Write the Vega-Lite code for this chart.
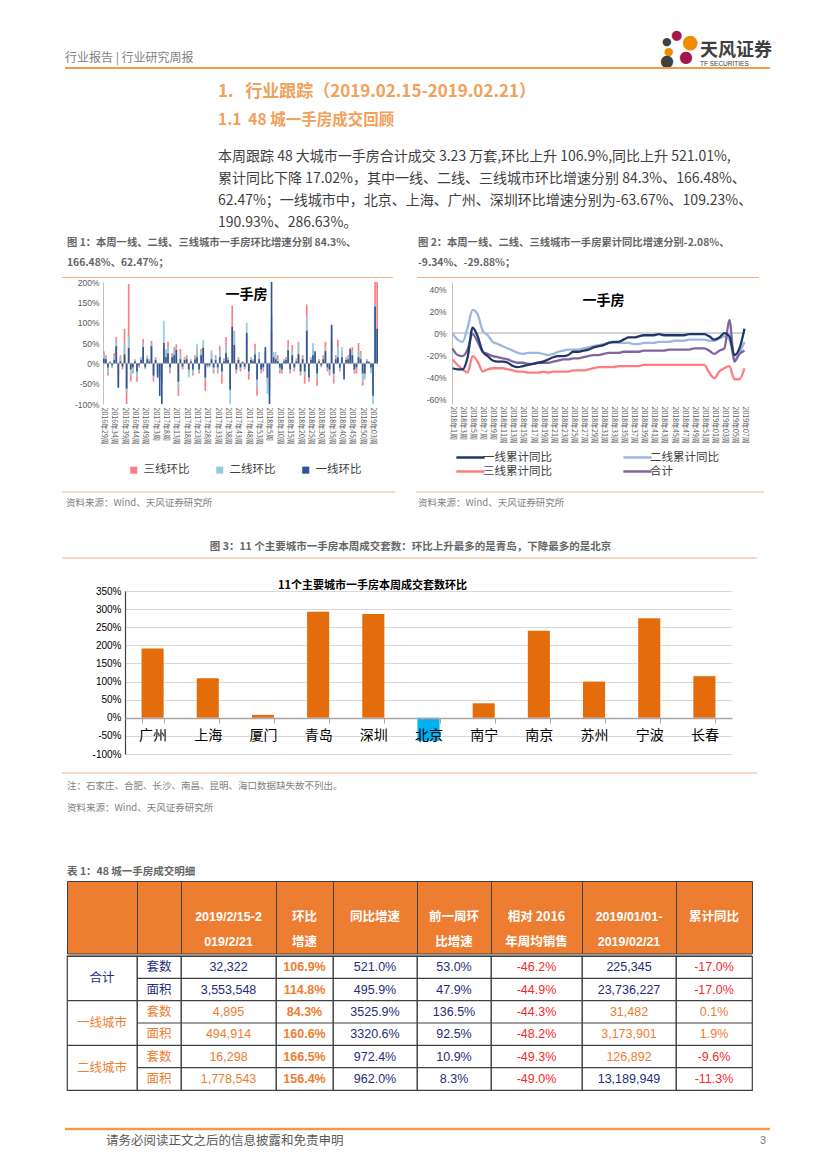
{
"$schema":"https://vega.github.io/schema/vega-lite/v6.json",
"background":"white",
"padding":0,
"spacing":0,
"bounds":"full",
"resolve":{"scale":{"color":"independent"},"legend":{"color":"independent"}},
"config":{
 "view":{"stroke":null},
 "font":"Noto Sans CJK SC",
 "title":{"anchor":"start","frame":"group","offset":0,"fontWeight":"normal","font":"Noto Sans CJK SC","subtitleFont":"Noto Sans CJK SC"}
},
"datasets":{
 "e":[],
 "d1":[
{"w":"2016年29周","一线":12,"二线":25,"三线":30},
{"w":"2016年30周","一线":10,"二线":15,"三线":20},
{"w":"2016年31周","一线":-10,"二线":-25,"三线":-30},
{"w":"2016年32周","一线":2,"二线":3,"三线":5},
{"w":"2016年33周","一线":-5,"二线":-12,"三线":-10},
{"w":"2016年34周","一线":8,"二线":20,"三线":25},
{"w":"2016年35周","一线":42,"二线":55,"三线":65},
{"w":"2016年36周","一线":-60,"二线":-55,"三线":-30},
{"w":"2016年37周","一线":5,"二线":15,"三线":20},
{"w":"2016年38周","一线":-8,"二线":-5,"三线":-15},
{"w":"2016年39周","一线":22,"二线":50,"三线":85},
{"w":"2016年40周","一线":-62,"二线":-70,"三线":-100},
{"w":"2016年41周","一线":38,"二线":70,"三线":195},
{"w":"2016年42周","一线":-15,"二线":-30,"三线":-45},
{"w":"2016年43周","一线":-10,"二线":-20,"三线":-25},
{"w":"2016年44周","一线":5,"二线":8,"三线":10},
{"w":"2016年45周","一线":-20,"二线":-35,"三线":-45},
{"w":"2016年46周","一线":-5,"二线":-8,"三线":-10},
{"w":"2016年47周","一线":8,"二线":12,"三线":15},
{"w":"2016年48周","一线":40,"二线":50,"三线":60},
{"w":"2016年49周","一线":-10,"二线":-15,"三线":-5},
{"w":"2016年50周","一线":10,"二线":20,"三线":15},
{"w":"2016年51周","一线":5,"二线":8,"三线":10},
{"w":"2017年1周","一线":42,"二线":48,"三线":55},
{"w":"2017年2周","一线":-30,"二线":-35,"三线":-45},
{"w":"2017年3周","一线":8,"二线":10,"三线":15},
{"w":"2017年4周","一线":-35,"二线":-20,"三线":-25},
{"w":"2017年5周","一线":-80,"二线":-40,"三线":-30},
{"w":"2017年6周","一线":-100,"二线":-50,"三线":-40},
{"w":"2017年7周","一线":50,"二线":105,"三线":40},
{"w":"2017年8周","一线":15,"二线":35,"三线":30},
{"w":"2017年9周","一线":25,"二线":40,"三线":53},
{"w":"2017年10周","一线":-10,"二线":-20,"三线":-25},
{"w":"2017年11周","一线":15,"二线":20,"三线":25},
{"w":"2017年12周","一线":20,"二线":35,"三线":40},
{"w":"2017年13周","一线":33,"二线":40,"三线":47},
{"w":"2017年14周","一线":-45,"二线":-60,"三线":-80},
{"w":"2017年15周","一线":10,"二线":20,"三线":35},
{"w":"2017年16周","一线":-8,"二线":-12,"三线":-15},
{"w":"2017年17周","一线":8,"二线":12,"三线":15},
{"w":"2017年18周","一线":10,"二线":15,"三线":20},
{"w":"2017年19周","一线":-15,"二线":-35,"三线":-25},
{"w":"2017年20周","一线":5,"二线":8,"三线":10},
{"w":"2017年21周","一线":-15,"二线":-25,"三线":-30},
{"w":"2017年22周","一线":10,"二线":15,"三线":20},
{"w":"2017年23周","一线":15,"二线":48,"三线":35},
{"w":"2017年24周","一线":-15,"二线":-20,"三线":-25},
{"w":"2017年25周","一线":20,"二线":30,"三线":35},
{"w":"2017年26周","一线":38,"二线":58,"三线":45},
{"w":"2017年27周","一线":-35,"二线":-40,"三线":-68},
{"w":"2017年28周","一线":-5,"二线":-8,"三线":-10},
{"w":"2017年29周","一线":-5,"二线":-10,"三线":-8},
{"w":"2017年30周","一线":10,"二线":32,"三线":25},
{"w":"2017年31周","一线":-10,"二线":-20,"三线":-25},
{"w":"2017年32周","一线":8,"二线":15,"三线":20},
{"w":"2017年33周","一线":-10,"二线":-18,"三线":-25},
{"w":"2017年34周","一线":15,"二线":30,"三线":43},
{"w":"2017年35周","一线":-20,"二线":-30,"三线":-50},
{"w":"2017年36周","一线":5,"二线":8,"三线":12},
{"w":"2017年37周","一线":25,"二线":45,"三线":65},
{"w":"2017年38周","一线":8,"二线":12,"三线":15},
{"w":"2017年39周","一线":-65,"二线":-100,"三线":-60},
{"w":"2017年40周","一线":90,"二线":80,"三线":142},
{"w":"2017年41周","一线":45,"二线":75,"三线":80},
{"w":"2017年42周","一线":-15,"二线":-20,"三线":-25},
{"w":"2017年43周","一线":8,"二线":12,"三线":15},
{"w":"2017年44周","一线":-10,"二线":-15,"三线":-20},
{"w":"2017年45周","一线":3,"二线":4,"三线":5},
{"w":"2017年46周","一线":-8,"二线":-10,"三线":-15},
{"w":"2017年47周","一线":75,"二线":100,"三线":60},
{"w":"2017年48周","一线":-20,"二线":-25,"三线":-40},
{"w":"2017年49周","一线":8,"二线":12,"三线":15},
{"w":"2017年50周","一线":5,"二线":8,"三线":10},
{"w":"2017年51周","一线":22,"二线":35,"三线":48},
{"w":"2017年52周","一线":-40,"二线":-60,"三线":-80},
{"w":"2017年53周","一线":10,"二线":28,"三线":20},
{"w":"2018年1周","一线":-15,"二线":-20,"三线":-25},
{"w":"2018年2周","一线":-10,"二线":-15,"三线":-20},
{"w":"2018年3周","一线":40,"二线":30,"三线":25},
{"w":"2018年4周","一线":-35,"二线":-75,"三线":-45},
{"w":"2018年5周","一线":-100,"二线":-80,"三线":-60},
{"w":"2018年6周","一线":220,"二线":120,"三线":80},
{"w":"2018年7周","一线":15,"二线":28,"三线":20},
{"w":"2018年8周","一线":10,"二线":28,"三线":15},
{"w":"2018年9周","一线":5,"二线":10,"三线":20},
{"w":"2018年10周","一线":-10,"二线":-18,"三线":-25},
{"w":"2018年11周","一线":-15,"二线":-20,"三线":-25},
{"w":"2018年12周","一线":5,"二线":8,"三线":10},
{"w":"2018年13周","一线":8,"二线":12,"三线":15},
{"w":"2018年14周","一线":32,"二线":40,"三线":57},
{"w":"2018年15周","一线":-15,"二线":-20,"三线":-25},
{"w":"2018年16周","一线":20,"二线":30,"三线":45},
{"w":"2018年17周","一线":-10,"二线":-15,"三线":-20},
{"w":"2018年18周","一线":5,"二线":10,"三线":12},
{"w":"2018年19周","一线":22,"二线":50,"三线":53},
{"w":"2018年20周","一线":-20,"二线":-25,"三线":-30},
{"w":"2018年21周","一线":10,"二线":15,"三线":20},
{"w":"2018年22周","一线":-20,"二线":-30,"三线":-50},
{"w":"2018年23周","一线":80,"二线":115,"三线":145},
{"w":"2018年24周","一线":-35,"二线":-40,"三线":-45},
{"w":"2018年25周","一线":8,"二线":12,"三线":15},
{"w":"2018年26周","一线":20,"二线":50,"三线":35},
{"w":"2018年27周","一线":30,"二线":25,"三线":20},
{"w":"2018年28周","一线":-25,"二线":-40,"三线":-55},
{"w":"2018年29周","一线":5,"二线":8,"三线":10},
{"w":"2018年30周","一线":-5,"二线":-8,"三线":-10},
{"w":"2018年31周","一线":10,"二线":15,"三线":20},
{"w":"2018年32周","一线":30,"二线":40,"三线":53},
{"w":"2018年33周","一线":-10,"二线":-15,"三线":-20},
{"w":"2018年34周","一线":-15,"二线":-25,"三线":-30},
{"w":"2018年35周","一线":95,"二线":85,"三线":60},
{"w":"2018年36周","一线":-25,"二线":-40,"三线":-50},
{"w":"2018年37周","一线":10,"二线":15,"三线":20},
{"w":"2018年38周","一线":15,"二线":40,"三线":58},
{"w":"2018年39周","一线":-10,"二线":-15,"三线":-20},
{"w":"2018年40周","一线":15,"二线":40,"三线":30},
{"w":"2018年41周","一线":-40,"二线":-30,"三线":-25},
{"w":"2018年42周","一线":8,"二线":12,"三线":15},
{"w":"2018年43周","一线":10,"二线":15,"三线":20},
{"w":"2018年44周","一线":35,"二线":30,"三线":38},
{"w":"2018年45周","一线":20,"二线":30,"三线":40},
{"w":"2018年46周","一线":-15,"二线":-20,"三线":-25},
{"w":"2018年47周","一线":-10,"二线":-15,"三线":-25},
{"w":"2018年48周","一线":15,"二线":30,"三线":50},
{"w":"2018年49周","一线":10,"二线":25,"三线":30},
{"w":"2018年50周","一线":-25,"二线":-45,"三线":-55},
{"w":"2018年51周","一线":-25,"二线":-40,"三线":-35},
{"w":"2018年52周","一线":5,"二线":8,"三线":10},
{"w":"2019年01周","一线":3,"二线":4,"三线":5},
{"w":"2019年02周","一线":-10,"二线":-25,"三线":-15},
{"w":"2019年03周","一线":-80,"二线":-100,"三线":-60},
{"w":"2019年04周","一线":140,"二线":145,"三线":220},
{"w":"2019年05周","一线":85,"二线":80,"三线":200}
 ],
 "d2":[
{"w":"2018年1周","一线":-32,"二线":0,"三线":-24,"合计":-14},
{"w":"2018年2周","一线":-33,"二线":-6,"三线":-29,"合计":-20},
{"w":"2018年3周","一线":-33,"二线":-8,"三线":-33,"合计":-21},
{"w":"2018年4周","一线":-22,"二线":5,"三线":-36,"合计":-15},
{"w":"2018年5周","一线":5,"二线":21,"三线":-21,"合计":-1},
{"w":"2018年6周","一线":-3,"二线":17,"三线":-26,"合计":-8},
{"w":"2018年7周","一线":-17,"二线":2,"三线":-35,"合计":-17},
{"w":"2018年8周","一线":-21,"二线":-2,"三线":-33,"合计":-19},
{"w":"2018年9周","一线":-25,"二线":-8,"三线":-32,"合计":-21},
{"w":"2018年10周","一线":-26,"二线":-10,"三线":-32,"合计":-22},
{"w":"2018年11周","一线":-26,"二线":-12,"三线":-32,"合计":-23},
{"w":"2018年12周","一线":-27,"二线":-14,"三线":-33,"合计":-24},
{"w":"2018年13周","一线":-30,"二线":-16,"三线":-34,"合计":-26},
{"w":"2018年14周","一线":-31,"二线":-18,"三线":-35,"合计":-27},
{"w":"2018年15周","一线":-30,"二线":-19,"三线":-35,"合计":-27},
{"w":"2018年16周","一线":-29,"二线":-18,"三线":-36,"合计":-28},
{"w":"2018年17周","一线":-28,"二线":-18,"三线":-36,"合计":-28},
{"w":"2018年18周","一线":-27,"二线":-18,"三线":-36,"合计":-27},
{"w":"2018年19周","一线":-26,"二线":-19,"三线":-35,"合计":-27},
{"w":"2018年20周","一线":-24,"二线":-20,"三线":-36,"合计":-27},
{"w":"2018年21周","一线":-22,"二线":-19,"三线":-35,"合计":-26},
{"w":"2018年22周","一线":-21,"二线":-17,"三线":-35,"合计":-25},
{"w":"2018年23周","一线":-21,"二线":-16,"三线":-35,"合计":-24},
{"w":"2018年24周","一线":-20,"二线":-15,"三线":-35,"合计":-24},
{"w":"2018年25周","一线":-17,"二线":-15,"三线":-34,"合计":-23},
{"w":"2018年26周","一线":-17,"二线":-15,"三线":-34,"合计":-23},
{"w":"2018年27周","一线":-16,"二线":-14,"三线":-34,"合计":-22},
{"w":"2018年28周","一线":-15,"二线":-13,"三线":-33,"合计":-21},
{"w":"2018年29周","一线":-13,"二线":-12,"三线":-32,"合计":-20},
{"w":"2018年30周","一线":-12,"二线":-11,"三线":-31,"合计":-20},
{"w":"2018年31周","一线":-11,"二线":-10,"三线":-31,"合计":-19},
{"w":"2018年32周","一线":-9,"二线":-9,"三线":-31,"合计":-18},
{"w":"2018年33周","一线":-8,"二线":-9,"三线":-31,"合计":-18},
{"w":"2018年34周","一线":-8,"二线":-9,"三线":-30,"合计":-18},
{"w":"2018年35周","一线":-6,"二线":-9,"三线":-30,"合计":-17},
{"w":"2018年36周","一线":-4,"二线":-9,"三线":-30,"合计":-17},
{"w":"2018年37周","一线":-4,"二线":-10,"三线":-30,"合计":-17},
{"w":"2018年38周","一线":-3,"二线":-10,"三线":-30,"合计":-17},
{"w":"2018年39周","一线":-2,"二线":-9,"三线":-29,"合计":-16},
{"w":"2018年40周","一线":-2,"二线":-9,"三线":-29,"合计":-16},
{"w":"2018年41周","一线":-2,"二线":-9,"三线":-29,"合计":-16},
{"w":"2018年42周","一线":-1,"二线":-8,"三线":-29,"合计":-16},
{"w":"2018年43周","一线":-2,"二线":-8,"三线":-29,"合计":-16},
{"w":"2018年44周","一线":-2,"二线":-8,"三线":-29,"合计":-15},
{"w":"2018年45周","一线":-2,"二线":-7,"三线":-29,"合计":-15},
{"w":"2018年46周","一线":-2,"二线":-7,"三线":-29,"合计":-15},
{"w":"2018年47周","一线":-2,"二线":-7,"三线":-29,"合计":-15},
{"w":"2018年48周","一线":-1,"二线":-6,"三线":-29,"合计":-15},
{"w":"2018年49周","一线":-1,"二线":-6,"三线":-29,"合计":-14},
{"w":"2018年50周","一线":-1,"二线":-6,"三线":-29,"合计":-14},
{"w":"2018年51周","一线":-1,"二线":-6,"三线":-29,"合计":-14},
{"w":"2018年52周","一线":-3,"二线":-7,"三线":-36,"合计":-16},
{"w":"2019年01周","一线":-6,"二线":-7,"三线":-41,"合计":-19},
{"w":"2019年02周","一线":-4,"二线":-5,"三线":-35,"合计":-16},
{"w":"2019年03周","一线":0,"二线":-3,"三线":-32,"合计":-14},
{"w":"2019年04周","一线":-3,"二线":-6,"三线":-30,"合计":12},
{"w":"2019年05周","一线":-20,"二线":-24,"三线":-42,"合计":-26},
{"w":"2019年06周","一线":-14,"二线":-18,"三线":-42,"合计":-19},
{"w":"2019年07周","一线":4,"二线":-8,"三线":-32,"合计":-16}
 ],
 "d3":[
{"city":"广州","v":190.93},{"city":"上海","v":109.23},{"city":"厦门","v":8},{"city":"青岛","v":293},{"city":"深圳","v":286.63},{"city":"北京","v":-63.67},{"city":"南宁","v":40},{"city":"南京","v":240},{"city":"苏州","v":100},{"city":"宁波","v":275},{"city":"长春","v":115}
 ],
 "th":[
{"c":"c3","t":"2019/2/15-2\n019/2/21"},{"c":"c4","t":"环比\n增速"},{"c":"c5","t":"同比增速"},{"c":"c6","t":"前一周环\n比增速"},{"c":"c7","t":"相对 2016\n年周均销售"},{"c":"c8","t":"2019/01/01-\n2019/02/21"},{"c":"c9","t":"累计同比"}
 ],
 "tb":[
{"c":"c1","r":"r1","t":"合计"},{"c":"c1","r":"r3","t":"一线城市"},{"c":"c1","r":"r5","t":"二线城市"},
{"c":"c2","r":"r1","t":"套数"},{"c":"c2","r":"r2","t":"面积"},{"c":"c2","r":"r3","t":"套数"},{"c":"c2","r":"r4","t":"面积"},{"c":"c2","r":"r5","t":"套数"},{"c":"c2","r":"r6","t":"面积"},
{"c":"c3","r":"r1","t":"32,322"},{"c":"c3","r":"r2","t":"3,553,548"},{"c":"c3","r":"r3","t":"4,895"},{"c":"c3","r":"r4","t":"494,914"},{"c":"c3","r":"r5","t":"16,298"},{"c":"c3","r":"r6","t":"1,778,543"},
{"c":"c4","r":"r1","t":"106.9%"},{"c":"c4","r":"r2","t":"114.8%"},{"c":"c4","r":"r3","t":"84.3%"},{"c":"c4","r":"r4","t":"160.6%"},{"c":"c4","r":"r5","t":"166.5%"},{"c":"c4","r":"r6","t":"156.4%"},
{"c":"c5","r":"r1","t":"521.0%"},{"c":"c5","r":"r2","t":"495.9%"},{"c":"c5","r":"r3","t":"3525.9%"},{"c":"c5","r":"r4","t":"3320.6%"},{"c":"c5","r":"r5","t":"972.4%"},{"c":"c5","r":"r6","t":"962.0%"},
{"c":"c6","r":"r1","t":"53.0%"},{"c":"c6","r":"r2","t":"47.9%"},{"c":"c6","r":"r3","t":"136.5%"},{"c":"c6","r":"r4","t":"92.5%"},{"c":"c6","r":"r5","t":"10.9%"},{"c":"c6","r":"r6","t":"8.3%"},
{"c":"c7","r":"r1","t":"-46.2%"},{"c":"c7","r":"r2","t":"-44.9%"},{"c":"c7","r":"r3","t":"-44.3%"},{"c":"c7","r":"r4","t":"-48.2%"},{"c":"c7","r":"r5","t":"-49.3%"},{"c":"c7","r":"r6","t":"-49.0%"},
{"c":"c8","r":"r1","t":"225,345"},{"c":"c8","r":"r2","t":"23,736,227"},{"c":"c8","r":"r3","t":"31,482"},{"c":"c8","r":"r4","t":"3,173,901"},{"c":"c8","r":"r5","t":"126,892"},{"c":"c8","r":"r6","t":"13,189,949"},
{"c":"c9","r":"r1","t":"-17.0%"},{"c":"c9","r":"r2","t":"-17.0%"},{"c":"c9","r":"r3","t":"0.1%"},{"c":"c9","r":"r4","t":"1.9%"},{"c":"c9","r":"r5","t":"-9.6%"},{"c":"c9","r":"r6","t":"-11.3%"}
 ]
},
"vconcat":[
{"spacing":0,"bounds":"flush","hconcat":[
 {"width":1,"height":1,"data":{"name":"e"},"mark":"text","title":{"text":"●","orient":"bottom","dx":671,"offset":28,"fontSize":13,"color":"#A3174A","font":"DejaVu Sans"}},
 {"width":1,"height":1,"data":{"name":"e"},"mark":"text","title":{"text":"●","orient":"bottom","dx":681,"offset":32,"fontSize":19,"color":"#F08C00","font":"DejaVu Sans"}},
 {"width":1,"height":1,"data":{"name":"e"},"mark":"text","title":{"text":"●","orient":"bottom","dx":660,"offset":35,"fontSize":11,"color":"#404040","font":"DejaVu Sans"}},
 {"width":1,"height":1,"data":{"name":"e"},"mark":"text","title":{"text":"●","orient":"bottom","dx":661,"offset":45,"fontSize":11,"color":"#F08C00","font":"DejaVu Sans"}},
 {"width":1,"height":1,"data":{"name":"e"},"mark":"text","title":{"text":"●","orient":"bottom","dx":656,"offset":52,"fontSize":16,"color":"#404040","font":"DejaVu Sans"}},
 {"width":1,"height":1,"data":{"name":"e"},"mark":"text","title":{"text":"●","orient":"bottom","dx":674,"offset":48,"fontSize":16,"color":"#A3174A","font":"DejaVu Sans"}},
 {"width":59,"height":69,"data":{"name":"e"},"mark":"text"},
 {"width":635,"height":68,"data":{"values":[{}]},"mark":{"type":"rule","color":"#EE9B4B","strokeWidth":2},"encoding":{"y":{"datum":0,"type":"quantitative","scale":{"domain":[0,1]},"axis":null}},"title":{"text":"行业报告\u00a0|\u00a0行业研究周报","orient":"bottom","offset":-16,"fontSize":12,"color":"#7F7F7F"}},
 {"width":70,"height":68,"data":{"values":[{}]},"mark":{"type":"rule","color":"#EE9B4B","strokeWidth":2},"encoding":{"y":{"datum":0,"type":"quantitative","scale":{"domain":[0,1]},"axis":null}},"title":{"text":"天风证券","subtitle":"TF SECURITIES","orient":"bottom","offset":-27,"fontSize":18,"fontWeight":"bold","color":"#404040","subtitleFontSize":6.5,"subtitleColor":"#404040","subtitlePadding":1,"subtitleFont":"Liberation Sans"}}
]},
{"spacing":0,"bounds":"flush","hconcat":[
 {"width":1,"height":1,"data":{"name":"e"},"mark":"text","title":{"text":"1.\u00a0\u00a0\u00a0行业跟踪（2019.02.15-2019.02.21）","subtitle":"1.1\u00a0\u00a048\u00a0城一手房成交回顾","orient":"bottom","dx":218,"offset":14,"fontSize":17,"fontWeight":"bold","color":"#F2A05A","subtitleFontSize":15.5,"subtitleFontWeight":"bold","subtitleColor":"#F2A05A","subtitlePadding":12}},
 {"width":1,"height":1,"data":{"name":"e"},"mark":"text","title":{"text":["本周跟踪 48 大城市一手房合计成交 3.23 万套,环比上升 106.9%,同比上升 521.01%,","累计同比下降 17.02%，其中一线、二线、三线城市环比增速分别 84.3%、166.48%、","62.47%；一线城市中，北京、上海、广州、深圳环比增速分别为-63.67%、109.23%、","190.93%、286.63%。"],"orient":"bottom","dx":217,"offset":80,"fontSize":14,"lineHeight":22,"color":"#3F3F3F"}},
 {"width":1,"height":1,"data":{"name":"e"},"mark":"text","title":{"text":["图 1：本周一线、二线、三线城市一手房环比增速分别 84.3%、","166.48%、62.47%；"],"orient":"bottom","dx":65,"offset":168,"fontSize":10.3,"lineHeight":20,"fontWeight":"bold","color":"#666666"}},
 {"width":1,"height":1,"data":{"name":"e"},"mark":"text","title":{"text":["图 2：本周一线、二线、三线城市一手房累计同比增速分别-2.08%、","-9.34%、-29.88%；"],"orient":"bottom","dx":415,"offset":168,"fontSize":10.3,"lineHeight":20,"fontWeight":"bold","color":"#666666"}},
 {"width":58,"height":209,"data":{"name":"e"},"mark":"text"},
 {"width":331,"height":208.5,"data":{"values":[{}]},"mark":{"type":"rule","color":"#F4B183","strokeWidth":1},"encoding":{"y":{"datum":0,"type":"quantitative","scale":{"domain":[0,1]},"axis":null}}},
 {"width":24,"height":1,"data":{"name":"e"},"mark":"text"},
 {"width":342,"height":208.5,"data":{"values":[{}]},"mark":{"type":"rule","color":"#F4B183","strokeWidth":1},"encoding":{"y":{"datum":0,"type":"quantitative","scale":{"domain":[0,1]},"axis":null}}}
]},
{"spacing":0,"bounds":"flush","resolve":{"scale":{"color":"independent"},"legend":{"color":"independent"}},"hconcat":[
 {"width":103,"height":209,"data":{"name":"e"},"mark":"text"},
 {"width":275,"height":122,"data":{"name":"d1"},
  "title":{"text":"一手房","anchor":"middle","offset":-24,"dx":6,"fontSize":14,"fontWeight":"bold","color":"#000000"},
  "layer":[
   {"transform":[{"fold":["三线","二线","一线"],"as":["s","v"]}],
    "mark":{"type":"bar","clip":true},
    "encoding":{
     "x":{"field":"w","type":"ordinal","sort":null,"scale":{"paddingInner":0.2,"paddingOuter":0},"axis":{"values":["2016年29周","2016年34周","2016年39周","2016年44周","2016年49周","2017年3周","2017年8周","2017年13周","2017年18周","2017年23周","2017年28周","2017年33周","2017年38周","2017年43周","2017年48周","2017年53周","2018年5周","2018年10周","2018年15周","2018年20周","2018年25周","2018年30周","2018年35周","2018年40周","2018年45周","2018年50周","2019年03周"],"labelAngle":90,"labelFontSize":7,"labelColor":"#595959","ticks":false,"domain":false,"title":null,"labelPadding":3}},
     "y":{"field":"v","type":"quantitative","stack":null,"scale":{"domain":[-100,200],"nice":false},"axis":{"values":[-100,-50,0,50,100,150,200],"labelExpr":"datum.value + '%'","labelOverlap":false,"title":null,"grid":false,"ticks":false,"domainColor":"#BFBFBF","labelFontSize":8.5,"labelColor":"#595959","labelFont":"Liberation Sans","labelPadding":4}},
     "color":{"field":"s","type":"nominal","scale":{"domain":["三线","二线","一线"],"range":["#FF7C80","#92CDDC","#2F5597"]},"legend":{"orient":"none","legendX":25,"legendY":182,"direction":"horizontal","title":null,"symbolType":"square","symbolSize":50,"labelFontSize":11.5,"labelColor":"#404040","columnPadding":24,"labelExpr":"datum.label + '环比'"}}
    }},
   {"data":{"values":[{}]},"mark":{"type":"rule","color":"#A6A6A6","strokeWidth":1},"encoding":{"y":{"datum":0,"type":"quantitative","axis":{"values":[-100,-50,0,50,100,150,200],"labelExpr":"datum.value + '%'","labelOverlap":false,"title":null,"grid":false,"ticks":false,"domainColor":"#BFBFBF","labelFontSize":8.5,"labelColor":"#595959","labelFont":"Liberation Sans","labelPadding":4}}}}
  ]},
 {"width":74,"height":1,"data":{"name":"e"},"mark":"text"},
 {"width":293,"height":122,"data":{"name":"d2"},
  "title":{"text":"一手房","anchor":"middle","offset":-26,"dx":5,"fontSize":14,"fontWeight":"bold","color":"#000000"},
  "layer":[
   {"data":{"values":[{}]},"mark":{"type":"rule","color":"#A6A6A6","strokeWidth":1},"encoding":{"y":{"datum":0,"type":"quantitative","axis":{"values":[-60,-40,-20,0,20,40],"labelExpr":"datum.value + '%'","labelOverlap":false,"title":null,"grid":false,"ticks":false,"domainColor":"#BFBFBF","labelFontSize":8.5,"labelColor":"#595959","labelFont":"Liberation Sans","labelPadding":6}}}},
   {"transform":[{"fold":["二线","三线","合计","一线"],"as":["s","v"]}],
    "mark":{"type":"line","interpolate":"monotone","strokeWidth":2.3},
    "encoding":{
     "x":{"field":"w","type":"ordinal","sort":null,"scale":{"padding":0.1},"axis":{"values":["2018年1周","2018年3周","2018年5周","2018年7周","2018年9周","2018年11周","2018年13周","2018年15周","2018年17周","2018年19周","2018年21周","2018年23周","2018年25周","2018年27周","2018年29周","2018年31周","2018年33周","2018年35周","2018年37周","2018年39周","2018年41周","2018年43周","2018年45周","2018年47周","2018年49周","2018年51周","2019年01周","2019年03周","2019年05周","2019年07周"],"labelAngle":90,"labelFontSize":7,"labelColor":"#595959","ticks":false,"domain":false,"title":null,"labelPadding":2}},
     "y":{"field":"v","type":"quantitative","scale":{"domain":[-64.5,46.4],"nice":false,"zero":false},"axis":{"values":[-60,-40,-20,0,20,40],"labelExpr":"datum.value + '%'","labelOverlap":false,"title":null,"grid":false,"ticks":false,"domainColor":"#BFBFBF","labelFontSize":8.5,"labelColor":"#595959","labelFont":"Liberation Sans","labelPadding":6}},
     "color":{"field":"s","type":"nominal","scale":{"domain":["一线","二线","三线","合计"],"range":["#1F3864","#9DB7DE","#FF7C80","#8064A2"]},"legend":{"orient":"none","legendX":10,"legendY":167,"columns":2,"direction":"horizontal","title":null,"symbolType":"M-2,0L2,0","symbolSize":200,"symbolStrokeWidth":2.5,"labelFontSize":11.5,"labelColor":"#404040","columnPadding":66,"rowPadding":0,"labelExpr":"datum.label == '合计' ? '合计' : datum.label + '累计同比'"}}
    }}
  ]}
]},
{"spacing":0,"bounds":"flush","hconcat":[
 {"width":1,"height":1,"data":{"name":"e"},"mark":"text","title":{"text":"资料来源：Wind、天风证券研究所","orient":"bottom","dx":66,"offset":6,"fontSize":9.5,"color":"#7F7F7F"}},
 {"width":1,"height":1,"data":{"name":"e"},"mark":"text","title":{"text":"资料来源：Wind、天风证券研究所","orient":"bottom","dx":417,"offset":6,"fontSize":9.5,"color":"#7F7F7F"}},
 {"width":1,"height":1,"data":{"name":"e"},"mark":"text","title":{"text":"图 3：11 个主要城市一手房本周成交套数：环比上升最多的是青岛，下降最多的是北京","orient":"bottom","anchor":"middle","dx":408,"offset":50,"fontSize":10.5,"fontWeight":"bold","color":"#666666"}},
 {"width":59,"height":66,"data":{"name":"e"},"mark":"text"},
 {"width":333,"height":1,"data":{"values":[{}]},"mark":{"type":"rule","color":"#F4B183","strokeWidth":1},"encoding":{"y":{"datum":0,"type":"quantitative","scale":{"domain":[0,1]},"axis":null}}},
 {"width":21,"height":1,"data":{"name":"e"},"mark":"text"},
 {"width":348,"height":1,"data":{"values":[{}]},"mark":{"type":"rule","color":"#F4B183","strokeWidth":1},"encoding":{"y":{"datum":0,"type":"quantitative","scale":{"domain":[0,1]},"axis":null}}}
]},
{"spacing":0,"bounds":"flush","hconcat":[
 {"width":62,"height":23,"data":{"name":"e"},"mark":"text"},
 {"width":695,"height":1,"data":{"values":[{}]},"mark":{"type":"rule","color":"#F4B183","strokeWidth":1},"encoding":{"y":{"datum":0,"type":"quantitative","scale":{"domain":[0,1]},"axis":null}}}
]},
{"spacing":0,"bounds":"flush","hconcat":[
 {"width":125,"height":181,"data":{"name":"e"},"mark":"text"},
 {"width":607,"height":163,"data":{"name":"d3"},
  "title":{"text":"11个主要城市一手房本周成交套数环比","dx":153,"offset":-5,"fontSize":11,"fontWeight":"bold","color":"#000000"},
  "mark":{"type":"bar"},
  "encoding":{
   "x":{"field":"city","type":"nominal","sort":null,"scale":{"paddingInner":0.6,"paddingOuter":0.3},"axis":{"title":null,"offset":-36,"labelAngle":0,"labelFontSize":14,"labelColor":"#000000","labelPadding":5,"domainColor":"#A6A6A6","domainWidth":1.5,"tickBand":"extent","tickColor":"#A6A6A6","tickSize":5,"tickWidth":1,"zindex":1}},
   "y":{"field":"v","type":"quantitative","scale":{"domain":[-100,350],"nice":false},"axis":{"title":null,"values":[-100,-50,0,50,100,150,200,250,300,350],"labelExpr":"datum.value + '%'","labelOverlap":false,"grid":true,"gridColor":"#D9D9D9","gridWidth":1.2,"domainColor":"#404040","domainWidth":1.2,"ticks":false,"labelFontSize":10,"labelColor":"#000000","labelFont":"Liberation Sans","labelPadding":4,"zindex":0}},
   "color":{"condition":{"test":"datum.v < 0","value":"#00B0F0"},"value":"#E46C0A"}
  }}
]},
{"spacing":0,"bounds":"flush","hconcat":[
 {"width":1,"height":1,"data":{"name":"e"},"mark":"text","title":{"text":["注：石家庄、合肥、长沙、南昌、昆明、海口数据缺失故不列出。","资料来源：Wind、天风证券研究所"],"orient":"bottom","dx":67,"offset":8,"fontSize":9.5,"lineHeight":22,"color":"#7F7F7F"}},
 {"width":1,"height":1,"data":{"name":"e"},"mark":"text","title":{"text":"表 1：48 城一手房成交明细","orient":"bottom","dx":66,"offset":94,"fontSize":10.5,"fontWeight":"bold","color":"#666666"}},
 {"width":60,"height":108,"data":{"name":"e"},"mark":"text"},
 {"width":695,"height":1,"data":{"values":[{}]},"mark":{"type":"rule","color":"#F4B183","strokeWidth":1},"encoding":{"y":{"datum":0,"type":"quantitative","scale":{"domain":[0,1]},"axis":null}}}
]},
{"spacing":0,"bounds":"flush","hconcat":[
 {"width":67,"height":72,"data":{"name":"e"},"mark":"text"},
 {"width":70,"height":72.5,"view":{"fill":"#ED7D31","stroke":"#404040","strokeWidth":1},"data":{"name":"th"},"transform":[{"filter":"datum.c=='c1'"}],"mark":{"type":"text","color":"white","fontWeight":"bold","fontSize":12.5,"lineBreak":"\n","lineHeight":25},"encoding":{"text":{"field":"t"}}},
 {"width":44,"height":72.5,"view":{"fill":"#ED7D31","stroke":"#404040","strokeWidth":1},"data":{"name":"th"},"transform":[{"filter":"datum.c=='c2'"}],"mark":{"type":"text","color":"white","fontWeight":"bold","fontSize":12.5,"lineBreak":"\n","lineHeight":25},"encoding":{"text":{"field":"t"}}},
 {"width":95,"height":72.5,"view":{"fill":"#ED7D31","stroke":"#404040","strokeWidth":1},"data":{"name":"th"},"transform":[{"filter":"datum.c=='c3'"}],"mark":{"type":"text","color":"white","fontWeight":"bold","fontSize":12.5,"lineBreak":"\n","lineHeight":25,"font":"Liberation Sans, Noto Sans CJK SC"},"encoding":{"text":{"field":"t"}}},
 {"width":57,"height":72.5,"view":{"fill":"#ED7D31","stroke":"#404040","strokeWidth":1},"data":{"name":"th"},"transform":[{"filter":"datum.c=='c4'"}],"mark":{"type":"text","color":"white","fontWeight":"bold","fontSize":12.5,"lineBreak":"\n","lineHeight":25},"encoding":{"text":{"field":"t"}}},
 {"width":84,"height":72.5,"view":{"fill":"#ED7D31","stroke":"#404040","strokeWidth":1},"data":{"name":"th"},"transform":[{"filter":"datum.c=='c5'"}],"mark":{"type":"text","color":"white","fontWeight":"bold","fontSize":12.5,"lineBreak":"\n","lineHeight":25},"encoding":{"text":{"field":"t"}}},
 {"width":74,"height":72.5,"view":{"fill":"#ED7D31","stroke":"#404040","strokeWidth":1},"data":{"name":"th"},"transform":[{"filter":"datum.c=='c6'"}],"mark":{"type":"text","color":"white","fontWeight":"bold","fontSize":12.5,"lineBreak":"\n","lineHeight":25},"encoding":{"text":{"field":"t"}}},
 {"width":91,"height":72.5,"view":{"fill":"#ED7D31","stroke":"#404040","strokeWidth":1},"data":{"name":"th"},"transform":[{"filter":"datum.c=='c7'"}],"mark":{"type":"text","color":"white","fontWeight":"bold","fontSize":12.5,"lineBreak":"\n","lineHeight":25},"encoding":{"text":{"field":"t"}}},
 {"width":94,"height":72.5,"view":{"fill":"#ED7D31","stroke":"#404040","strokeWidth":1},"data":{"name":"th"},"transform":[{"filter":"datum.c=='c8'"}],"mark":{"type":"text","color":"white","fontWeight":"bold","fontSize":12.5,"lineBreak":"\n","lineHeight":25,"font":"Liberation Sans, Noto Sans CJK SC"},"encoding":{"text":{"field":"t"}}},
 {"width":76,"height":72.5,"view":{"fill":"#ED7D31","stroke":"#404040","strokeWidth":1},"data":{"name":"th"},"transform":[{"filter":"datum.c=='c9'"}],"mark":{"type":"text","color":"white","fontWeight":"bold","fontSize":12.5,"lineBreak":"\n","lineHeight":25},"encoding":{"text":{"field":"t"}}}
]},
{"spacing":0,"bounds":"flush","hconcat":[
 {"width":67,"height":171,"data":{"name":"e"},"mark":"text"},
 {"width":70,"height":134,"view":{"fill":"white","stroke":"#404040","strokeWidth":1.2},"data":{"name":"tb"},"transform":[{"filter":"datum.c=='c1'"}],
  "layer":[
   {"mark":{"type":"rule","color":"#404040","strokeWidth":1.2},"encoding":{"y":{"field":"r","type":"ordinal","bandPosition":0,"scale":{"type":"band","domain":["r1","r2","r3","r4","r5","r6"],"paddingInner":0,"paddingOuter":0},"axis":null}}},
   {"mark":{"type":"text","fontSize":12.5},"encoding":{"y":{"field":"r","type":"ordinal","bandPosition":1,"scale":{"type":"band","domain":["r1","r2","r3","r4","r5","r6"],"paddingInner":0,"paddingOuter":0},"axis":null},"text":{"field":"t"},"color":{"condition":[{"test":"indexof(datum.t,'-')==0","value":"#F52A2A"},{"test":"datum.c=='c4' || (datum.r!='r1' && datum.r!='r2' && (datum.c=='c1' || datum.c=='c2' || datum.c=='c3' || datum.c=='c9' || (datum.c=='c8' && datum.r!='r6')))","value":"#ED7D31"}],"value":"#1F2D7A"}}}
  ]},
 {"width":44,"height":134,"view":{"fill":"white","stroke":"#404040","strokeWidth":1.2},"data":{"name":"tb"},"transform":[{"filter":"datum.c=='c2'"}],
  "layer":[
   {"mark":{"type":"rule","color":"#404040","strokeWidth":1.2},"encoding":{"y":{"field":"r","type":"ordinal","bandPosition":0,"scale":{"type":"band","domain":["r1","r2","r3","r4","r5","r6"],"paddingInner":0,"paddingOuter":0},"axis":null}}},
   {"mark":{"type":"text","fontSize":12.5},"encoding":{"y":{"field":"r","type":"ordinal","bandPosition":0.5,"scale":{"type":"band","domain":["r1","r2","r3","r4","r5","r6"],"paddingInner":0,"paddingOuter":0},"axis":null},"text":{"field":"t"},"color":{"condition":[{"test":"indexof(datum.t,'-')==0","value":"#F52A2A"},{"test":"datum.c=='c4' || (datum.r!='r1' && datum.r!='r2' && (datum.c=='c1' || datum.c=='c2' || datum.c=='c3' || datum.c=='c9' || (datum.c=='c8' && datum.r!='r6')))","value":"#ED7D31"}],"value":"#1F2D7A"}}}
  ]},
 {"width":95,"height":134,"view":{"fill":"white","stroke":"#404040","strokeWidth":1.2},"data":{"name":"tb"},"transform":[{"filter":"datum.c=='c3'"}],
  "layer":[
   {"mark":{"type":"rule","color":"#404040","strokeWidth":1.2},"encoding":{"y":{"field":"r","type":"ordinal","bandPosition":0,"scale":{"type":"band","domain":["r1","r2","r3","r4","r5","r6"],"paddingInner":0,"paddingOuter":0},"axis":null}}},
   {"mark":{"type":"text","fontSize":12.5,"font":"Liberation Sans"},"encoding":{"y":{"field":"r","type":"ordinal","bandPosition":0.5,"scale":{"type":"band","domain":["r1","r2","r3","r4","r5","r6"],"paddingInner":0,"paddingOuter":0},"axis":null},"text":{"field":"t"},"color":{"condition":[{"test":"indexof(datum.t,'-')==0","value":"#F52A2A"},{"test":"datum.c=='c4' || (datum.r!='r1' && datum.r!='r2' && (datum.c=='c1' || datum.c=='c2' || datum.c=='c3' || datum.c=='c9' || (datum.c=='c8' && datum.r!='r6')))","value":"#ED7D31"}],"value":"#1F2D7A"}}}
  ]},
 {"width":57,"height":134,"view":{"fill":"white","stroke":"#404040","strokeWidth":1.2},"data":{"name":"tb"},"transform":[{"filter":"datum.c=='c4'"}],
  "layer":[
   {"mark":{"type":"rule","color":"#404040","strokeWidth":1.2},"encoding":{"y":{"field":"r","type":"ordinal","bandPosition":0,"scale":{"type":"band","domain":["r1","r2","r3","r4","r5","r6"],"paddingInner":0,"paddingOuter":0},"axis":null}}},
   {"mark":{"type":"text","fontSize":12.5,"fontWeight":"bold","font":"Liberation Sans"},"encoding":{"y":{"field":"r","type":"ordinal","bandPosition":0.5,"scale":{"type":"band","domain":["r1","r2","r3","r4","r5","r6"],"paddingInner":0,"paddingOuter":0},"axis":null},"text":{"field":"t"},"color":{"condition":[{"test":"indexof(datum.t,'-')==0","value":"#F52A2A"},{"test":"datum.c=='c4' || (datum.r!='r1' && datum.r!='r2' && (datum.c=='c1' || datum.c=='c2' || datum.c=='c3' || datum.c=='c9' || (datum.c=='c8' && datum.r!='r6')))","value":"#ED7D31"}],"value":"#1F2D7A"}}}
  ]},
 {"width":84,"height":134,"view":{"fill":"white","stroke":"#404040","strokeWidth":1.2},"data":{"name":"tb"},"transform":[{"filter":"datum.c=='c5'"}],
  "layer":[
   {"mark":{"type":"rule","color":"#404040","strokeWidth":1.2},"encoding":{"y":{"field":"r","type":"ordinal","bandPosition":0,"scale":{"type":"band","domain":["r1","r2","r3","r4","r5","r6"],"paddingInner":0,"paddingOuter":0},"axis":null}}},
   {"mark":{"type":"text","fontSize":12.5,"font":"Liberation Sans"},"encoding":{"y":{"field":"r","type":"ordinal","bandPosition":0.5,"scale":{"type":"band","domain":["r1","r2","r3","r4","r5","r6"],"paddingInner":0,"paddingOuter":0},"axis":null},"text":{"field":"t"},"color":{"condition":[{"test":"indexof(datum.t,'-')==0","value":"#F52A2A"},{"test":"datum.c=='c4' || (datum.r!='r1' && datum.r!='r2' && (datum.c=='c1' || datum.c=='c2' || datum.c=='c3' || datum.c=='c9' || (datum.c=='c8' && datum.r!='r6')))","value":"#ED7D31"}],"value":"#1F2D7A"}}}
  ]},
 {"width":74,"height":134,"view":{"fill":"white","stroke":"#404040","strokeWidth":1.2},"data":{"name":"tb"},"transform":[{"filter":"datum.c=='c6'"}],
  "layer":[
   {"mark":{"type":"rule","color":"#404040","strokeWidth":1.2},"encoding":{"y":{"field":"r","type":"ordinal","bandPosition":0,"scale":{"type":"band","domain":["r1","r2","r3","r4","r5","r6"],"paddingInner":0,"paddingOuter":0},"axis":null}}},
   {"mark":{"type":"text","fontSize":12.5,"font":"Liberation Sans"},"encoding":{"y":{"field":"r","type":"ordinal","bandPosition":0.5,"scale":{"type":"band","domain":["r1","r2","r3","r4","r5","r6"],"paddingInner":0,"paddingOuter":0},"axis":null},"text":{"field":"t"},"color":{"condition":[{"test":"indexof(datum.t,'-')==0","value":"#F52A2A"},{"test":"datum.c=='c4' || (datum.r!='r1' && datum.r!='r2' && (datum.c=='c1' || datum.c=='c2' || datum.c=='c3' || datum.c=='c9' || (datum.c=='c8' && datum.r!='r6')))","value":"#ED7D31"}],"value":"#1F2D7A"}}}
  ]},
 {"width":91,"height":134,"view":{"fill":"white","stroke":"#404040","strokeWidth":1.2},"data":{"name":"tb"},"transform":[{"filter":"datum.c=='c7'"}],
  "layer":[
   {"mark":{"type":"rule","color":"#404040","strokeWidth":1.2},"encoding":{"y":{"field":"r","type":"ordinal","bandPosition":0,"scale":{"type":"band","domain":["r1","r2","r3","r4","r5","r6"],"paddingInner":0,"paddingOuter":0},"axis":null}}},
   {"mark":{"type":"text","fontSize":12.5,"font":"Liberation Sans"},"encoding":{"y":{"field":"r","type":"ordinal","bandPosition":0.5,"scale":{"type":"band","domain":["r1","r2","r3","r4","r5","r6"],"paddingInner":0,"paddingOuter":0},"axis":null},"text":{"field":"t"},"color":{"condition":[{"test":"indexof(datum.t,'-')==0","value":"#F52A2A"},{"test":"datum.c=='c4' || (datum.r!='r1' && datum.r!='r2' && (datum.c=='c1' || datum.c=='c2' || datum.c=='c3' || datum.c=='c9' || (datum.c=='c8' && datum.r!='r6')))","value":"#ED7D31"}],"value":"#1F2D7A"}}}
  ]},
 {"width":94,"height":134,"view":{"fill":"white","stroke":"#404040","strokeWidth":1.2},"data":{"name":"tb"},"transform":[{"filter":"datum.c=='c8'"}],
  "layer":[
   {"mark":{"type":"rule","color":"#404040","strokeWidth":1.2},"encoding":{"y":{"field":"r","type":"ordinal","bandPosition":0,"scale":{"type":"band","domain":["r1","r2","r3","r4","r5","r6"],"paddingInner":0,"paddingOuter":0},"axis":null}}},
   {"mark":{"type":"text","fontSize":12.5,"font":"Liberation Sans"},"encoding":{"y":{"field":"r","type":"ordinal","bandPosition":0.5,"scale":{"type":"band","domain":["r1","r2","r3","r4","r5","r6"],"paddingInner":0,"paddingOuter":0},"axis":null},"text":{"field":"t"},"color":{"condition":[{"test":"indexof(datum.t,'-')==0","value":"#F52A2A"},{"test":"datum.c=='c4' || (datum.r!='r1' && datum.r!='r2' && (datum.c=='c1' || datum.c=='c2' || datum.c=='c3' || datum.c=='c9' || (datum.c=='c8' && datum.r!='r6')))","value":"#ED7D31"}],"value":"#1F2D7A"}}}
  ]},
 {"width":76,"height":134,"view":{"fill":"white","stroke":"#404040","strokeWidth":1.2},"data":{"name":"tb"},"transform":[{"filter":"datum.c=='c9'"}],
  "layer":[
   {"mark":{"type":"rule","color":"#404040","strokeWidth":1.2},"encoding":{"y":{"field":"r","type":"ordinal","bandPosition":0,"scale":{"type":"band","domain":["r1","r2","r3","r4","r5","r6"],"paddingInner":0,"paddingOuter":0},"axis":null}}},
   {"mark":{"type":"text","fontSize":12.5,"font":"Liberation Sans"},"encoding":{"y":{"field":"r","type":"ordinal","bandPosition":0.5,"scale":{"type":"band","domain":["r1","r2","r3","r4","r5","r6"],"paddingInner":0,"paddingOuter":0},"axis":null},"text":{"field":"t"},"color":{"condition":[{"test":"indexof(datum.t,'-')==0","value":"#F52A2A"},{"test":"datum.c=='c4' || (datum.r!='r1' && datum.r!='r2' && (datum.c=='c1' || datum.c=='c2' || datum.c=='c3' || datum.c=='c9' || (datum.c=='c8' && datum.r!='r6')))","value":"#ED7D31"}],"value":"#1F2D7A"}}}
  ]}
]},
{"spacing":0,"bounds":"flush","hconcat":[
 {"width":1,"height":1,"data":{"name":"e"},"mark":"text","title":{"text":"请务必阅读正文之后的信息披露和免责申明","orient":"bottom","dx":106,"offset":6,"fontSize":12.5,"color":"#595959"}},
 {"width":1,"height":1,"data":{"name":"e"},"mark":"text","title":{"text":"3","orient":"bottom","anchor":"end","dx":764,"offset":6,"fontSize":11,"color":"#7F7F7F","font":"Liberation Sans"}},
 {"width":63,"height":38,"data":{"name":"e"},"mark":"text"},
 {"width":705,"height":1,"data":{"values":[{}]},"mark":{"type":"rule","color":"#EE9B4B","strokeWidth":2.5},"encoding":{"y":{"datum":0,"type":"quantitative","scale":{"domain":[0,1]},"axis":null}}}
]}
]
}
